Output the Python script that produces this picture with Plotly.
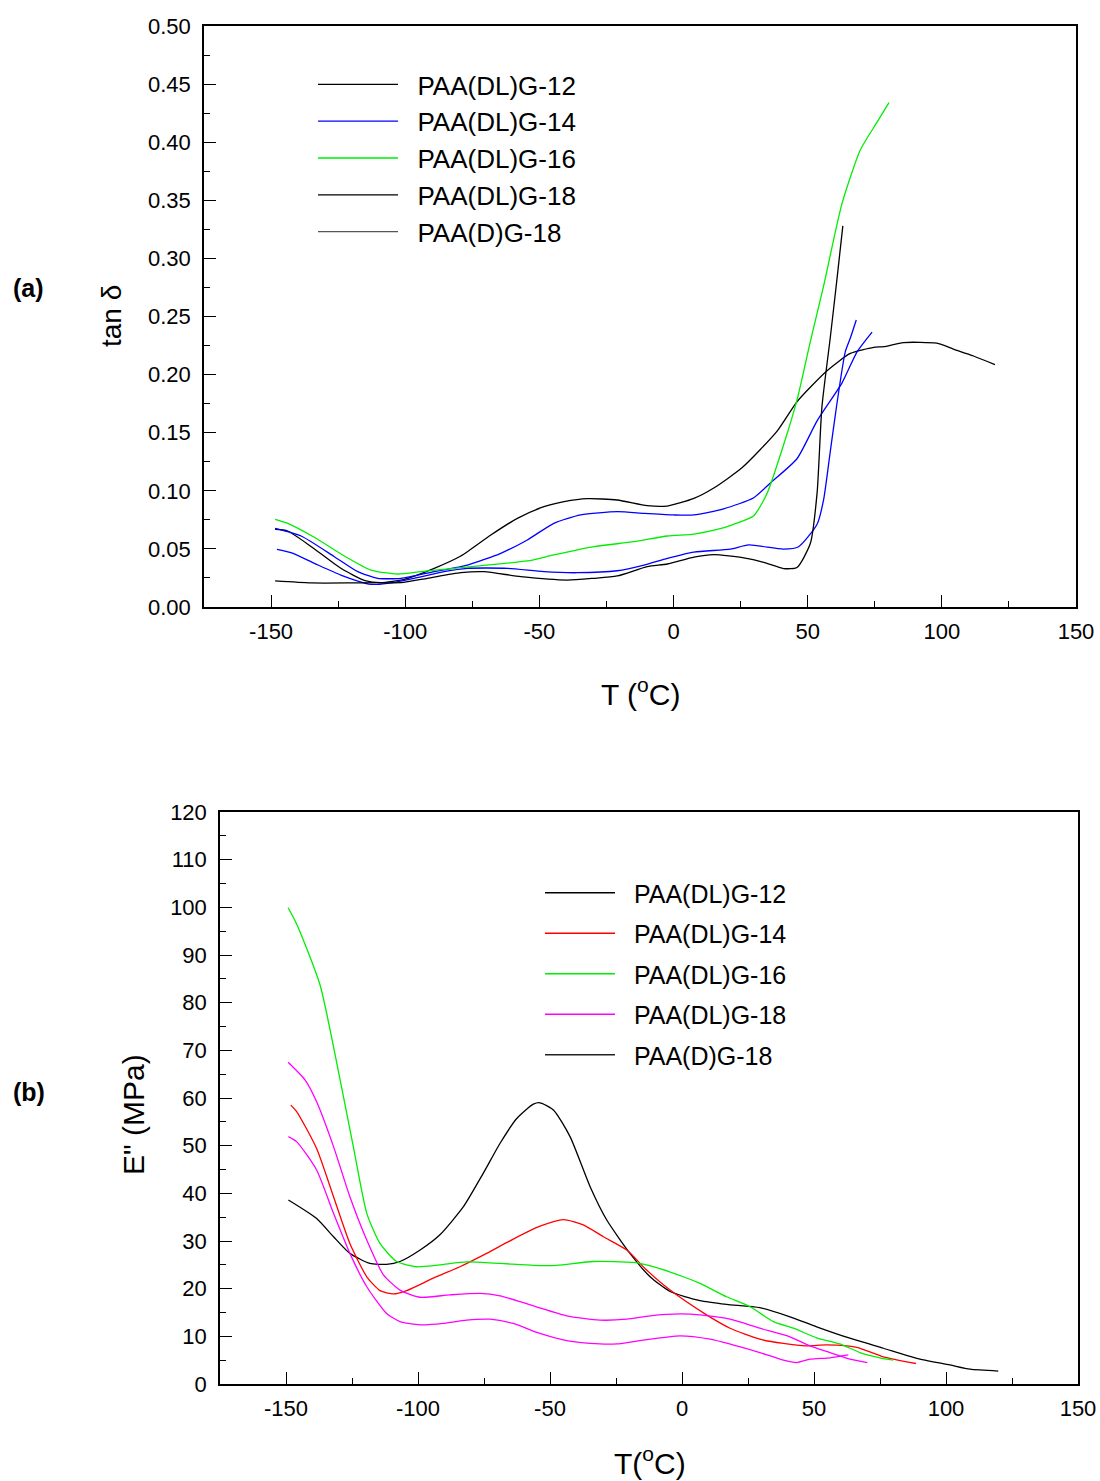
import plotly.graph_objects as go

# ---------------- (a) tan delta ----------------
a_dl12_T = [-148.5, -143.8, -135, -124, -115, -109, -100.4, -89.2, -79.3, -68.1, -58.2, -48.3, -40.8, -32.1, -21, -9.8,
            -2.4, 7.6, 15, 25.6, 38.6, 46, 57.2, 65.9, 74.6, 78.3, 85.7, 98.1, 104.3, 111.8, 119.8]
a_dl12_v = [0.0669, 0.0654, 0.0519, 0.0333, 0.0227, 0.0209, 0.0238, 0.0333, 0.0439, 0.062, 0.0763, 0.0863, 0.0906, 0.0932, 0.0921, 0.0872,
            0.0869, 0.0935, 0.1024, 0.120, 0.1514, 0.1766, 0.2033, 0.2182, 0.2235, 0.224, 0.2276, 0.227, 0.222, 0.216, 0.2086]

a_dl14_T = [-148.5, -138.8, -126.4, -117.7, -110.3, -101.6, -89.2, -76.8, -64.4, -54.5, -44.6, -34.6, -21, -11, 0.1, 7.6,
            18.7, 29.9, 36.1, 46, 53.5, 62.8, 68.4, 74]
a_dl14_v = [0.0677, 0.0611, 0.0433, 0.0304, 0.0247, 0.0247, 0.0304, 0.0361, 0.0462, 0.0577, 0.072, 0.0792, 0.082, 0.0806, 0.0792, 0.0792,
            0.0845, 0.094, 0.1068, 0.1276, 0.1602, 0.1929, 0.2196, 0.2366]

a_dl16_T = [-148.5, -143.8, -133.9, -122.7, -112.8, -102.8, -94.2, -81.8, -66.9, -54.5, -44.6, -29.7, -14.8, -2.3, 7.6,
            16.3, 22.4, 29.9, 34.9, 41, 46, 51, 55.9, 62.8, 69.6, 75.8, 80.3]
a_dl16_v = [0.0755, 0.072, 0.060, 0.0439, 0.0318, 0.0284, 0.0304, 0.0333, 0.0367, 0.0396, 0.0448, 0.0519, 0.0562, 0.0611, 0.0628,
            0.0667, 0.0712, 0.0786, 0.098, 0.1394, 0.178, 0.2286, 0.276, 0.3473, 0.3933, 0.417, 0.434]

a_dl18_T = [-147.8, -142.6, -133.9, -124, -112.8, -106.6, -96.7, -85.5, -76.8, -61.9, -48.3, -35.9, -21, -11, -2.3, 7.6,
            21.2, 28, 41, 46.6, 53.5, 55.9, 58.4, 60.9, 64, 65.9, 68.1]
a_dl18_v = [0.0496, 0.0467, 0.0376, 0.0275, 0.0195, 0.0204, 0.0247, 0.0304, 0.0333, 0.0333, 0.0304, 0.0295, 0.0312, 0.0361, 0.0419, 0.0473,
            0.0498, 0.0534, 0.0498, 0.0519, 0.0712, 0.0919, 0.1335, 0.1751, 0.2196, 0.2315, 0.247]

a_d18_T = [-148.5, -135.1, -120.2, -110.3, -101.6, -91.7, -79.3, -70.6, -56.9, -39.6, -29.7, -21, -9.8, -2.3, 7.6, 15,
           26.2, 33.6, 41, 46, 51, 53.5, 55.3, 58.4, 60.9, 63.1]
a_d18_v = [0.0224, 0.0207, 0.0207, 0.0209, 0.0209, 0.0247, 0.0295, 0.0304, 0.0261, 0.0232, 0.0247, 0.0267, 0.0347, 0.037, 0.0429, 0.045,
           0.0423, 0.0385, 0.0331, 0.034, 0.0548, 0.098, 0.172, 0.2315, 0.282, 0.328]

# ---------------- (b) E'' ----------------
b_dl12_T = [-149.1, -138.6, -132, -125.8, -118.2, -111.9, -106.8, -99.2, -91.7, -82.8, -75.3, -68.9, -62.6, -56.3, -53.8, -48.7,
            -42.4, -34.8, -28.5, -19.7, -12.1, -4.5, 6.8, 16.9, 29.5, 40.9, 51, 63.6, 76.3, 88.9, 101.5, 109.1, 119.8]
b_dl12_v = [38.6, 34.8, 30.9, 27.4, 25.3, 25.1, 25.7, 28.1, 31.3, 37.2, 44.2, 50.5, 55.7, 58.7, 59.0, 57.5,
            51.9, 41.4, 34.4, 27.4, 22.5, 19.4, 17.5, 16.7, 16.0, 14.1, 12.0, 9.6, 7.5, 5.4, 4.0, 3.1, 2.7]

b_dl14_T = [-148.2, -145.9, -138.4, -132, -125.8, -119.4, -114.4, -109.3, -104.3, -94.2, -84.1, -74, -63.9, -53.8, -45, -37.4,
            -29.8, -20.9, -13.4, -4.5, 9.3, 18.2, 29.5, 38.4, 47.2, 54.8, 66.2, 76.3, 88.6]
b_dl14_v = [58.5, 57.1, 49.4, 39.3, 29.5, 22.5, 19.6, 18.9, 19.6, 22.2, 24.6, 27.4, 30.4, 33.1, 34.5, 33.4,
            30.9, 28.1, 23.9, 19.7, 14.5, 11.7, 9.4, 8.5, 8.0, 8.2, 7.7, 5.7, 4.3]

b_dl16_T = [-149.2, -145.8, -137.1, -129.5, -124.5, -119.4, -114.4, -108.1, -100.5, -91.7, -81.6, -68.9, -56.3, -47.5, -33.6, -18.4,
            -10.9, 0.5, 6.8, 16.9, 25.8, 34.6, 42.2, 51, 59.8, 67.4, 75, 80]
b_dl16_v = [99.9, 96.3, 83.7, 63.8, 49.8, 35.8, 29.5, 25.7, 24.6, 25.0, 25.6, 25.3, 24.9, 24.9, 25.7, 25.5,
            24.6, 22.5, 21.1, 18.3, 16.2, 13.1, 11.7, 9.7, 8.4, 6.6, 5.5, 5.0]

b_dl18_T = [-149.2, -142.8, -138.4, -132, -125.8, -119.4, -113.1, -106.8, -99.2, -87.9, -76.5, -68.9, -56.3, -43.7, -31.1, -20.9,
            -12.1, -0.8, 6.8, 18.2, 29.5, 40.9, 48.5, 56.1, 63.6, 70.2]
b_dl18_v = [67.5, 63.8, 59.2, 49.8, 39.3, 30.2, 22.9, 19.7, 18.2, 18.7, 19.0, 18.5, 16.4, 14.3, 13.4, 13.6,
            14.3, 14.7, 14.5, 13.6, 11.7, 9.9, 8.0, 6.6, 5.2, 4.5]

b_d18_T = [-149.1, -145.9, -138.4, -132, -125.8, -119.4, -111.9, -106.8, -99.2, -90.4, -81.6, -72.7, -63.9, -53.8, -43.7, -31.1,
           -24.7, -14.7, -0.8, 10.6, 20.7, 29.5, 38.4, 43.4, 48.5, 56.1, 63]
b_d18_v = [51.9, 50.8, 44.9, 35.8, 27.4, 20.4, 14.8, 13.1, 12.4, 12.7, 13.4, 13.6, 12.7, 10.6, 9.1, 8.4,
           8.4, 9.2, 10.1, 9.4, 8.0, 6.6, 5.0, 4.5, 5.2, 5.5, 6.1]

names = ["PAA(DL)G-12", "PAA(DL)G-14", "PAA(DL)G-16", "PAA(DL)G-18", "PAA(D)G-18"]
a_legend_colors = ["#000000", "#0000FF", "#00EE00", "#000000", "#555555"]
b_legend_colors = ["#000000", "#FF0000", "#00EE00", "#FF00FF", "#222222"]
x_ticks = [-150, -100, -50, 0, 50, 100, 150]
x_ticktext = ["-150", "-100", "-50", "0", "50", "100", "150"]

W, H = 1100, 1481
FONT = "Liberation Sans, Arial, sans-serif"
PAD = "\u00a0\u00a0"

fig = go.Figure()

a_series = [(a_dl12_T, a_dl12_v, "#000000"), (a_dl14_T, a_dl14_v, "#0000FF"), (a_dl16_T, a_dl16_v, "#00EE00"),
            (a_dl18_T, a_dl18_v, "#0000FF"), (a_d18_T, a_d18_v, "#000000")]
b_series = [(b_dl12_T, b_dl12_v, "#000000"), (b_dl14_T, b_dl14_v, "#FF0000"), (b_dl16_T, b_dl16_v, "#00EE00"),
            (b_dl18_T, b_dl18_v, "#FF00FF"), (b_d18_T, b_d18_v, "#FF00FF")]

for (xs, ys, c), n in zip(a_series, names):
    fig.add_trace(go.Scatter(x=xs, y=ys, mode="lines", name=n, line=dict(color=c, width=1.3, shape="spline", smoothing=0.6),
                             showlegend=False, xaxis="x", yaxis="y"))
for (xs, ys, c), n in zip(b_series, names):
    fig.add_trace(go.Scatter(x=xs, y=ys, mode="lines", name=n, line=dict(color=c, width=1.3, shape="spline", smoothing=0.6),
                             showlegend=False, xaxis="x2", yaxis="y2"))

# legend entries
for i, (n, c) in enumerate(zip(names, a_legend_colors)):
    fig.add_trace(go.Scatter(x=[None], y=[None], mode="lines", name=PAD + n, line=dict(color=c, width=1.3),
                             legend="legend", legendgroup="a%d" % i, xaxis="x", yaxis="y"))
for i, (n, c) in enumerate(zip(names, b_legend_colors)):
    fig.add_trace(go.Scatter(x=[None], y=[None], mode="lines", name=PAD + n, line=dict(color=c, width=1.3),
                             legend="legend2", legendgroup="b%d" % i, xaxis="x2", yaxis="y2"))

axis_common = dict(showgrid=False, zeroline=False, showline=True, linecolor="black", linewidth=1.5, mirror=True,
                   ticks="inside", ticklen=12, tickwidth=1.3, tickcolor="black",
                   tickfont=dict(family=FONT, size=22, color="black"), automargin=False)
minor_common = dict(ticks="inside", ticklen=6, tickwidth=1.3, tickcolor="black", showgrid=False)

fig.update_layout(
    width=W, height=H, margin=dict(l=0, r=0, t=0, b=0),
    paper_bgcolor="white", plot_bgcolor="white",
    font=dict(family=FONT, color="black"),
    xaxis=dict(domain=[204 / W, 1076 / W], range=[-175, 150], tickvals=x_ticks, ticktext=x_ticktext,
               minor=dict(dtick=25, **minor_common), anchor="y", ticklabelstandoff=4, **axis_common),
    yaxis=dict(domain=[1 - 607 / H, 1 - 26 / H], range=[0, 0.5], dtick=0.05, tickformat=".2f",
               minor=dict(dtick=0.025, **minor_common), anchor="x", ticklabelstandoff=7, **axis_common),
    xaxis2=dict(domain=[220 / W, 1078 / W], range=[-175, 150], tickvals=x_ticks, ticktext=x_ticktext,
                minor=dict(dtick=25, **minor_common), anchor="y2", ticklabelstandoff=4, **axis_common),
    yaxis2=dict(domain=[1 - 1384 / H, 1 - 812 / H], range=[0, 120], dtick=10,
                minor=dict(dtick=5, **minor_common), anchor="x2", ticklabelstandoff=7, **axis_common),
    legend=dict(x=313 / W, y=1 - 61 / H, xanchor="left", yanchor="top", bgcolor="rgba(0,0,0,0)",
                font=dict(family=FONT, size=26, color="black"), itemwidth=80, tracegroupgap=0, itemclick=False),
    legend2=dict(x=540 / W, y=1 - 870 / H, xanchor="left", yanchor="top", bgcolor="rgba(0,0,0,0)",
                 font=dict(family=FONT, size=25, color="black"), itemwidth=70, tracegroupgap=5, itemclick=False),
    showlegend=True,
)

ann = [
    dict(text="tan δ", x=112 / W, y=1 - 316 / H, textangle=-90, font=dict(size=28)),
    dict(text="T (<sup>o</sup>C)", x=640 / W, y=1 - 692 / H, font=dict(size=30)),
    dict(text="E\" (MPa)", x=133 / W, y=1 - 1115 / H, textangle=-90, font=dict(size=30)),
    dict(text="T(<sup>o</sup>C)", x=650 / W, y=1 - 1461 / H, font=dict(size=30)),
    dict(text="<b>(a)</b>", x=28 / W, y=1 - 288 / H, font=dict(size=25)),
    dict(text="<b>(b)</b>", x=29 / W, y=1 - 1092 / H, font=dict(size=25)),
]
for a in ann:
    a.update(xref="paper", yref="paper", showarrow=False, xanchor="center", yanchor="middle")
    a["font"].update(family=FONT, color="black")
    fig.add_annotation(**a)

fig.write_html("out.html")
